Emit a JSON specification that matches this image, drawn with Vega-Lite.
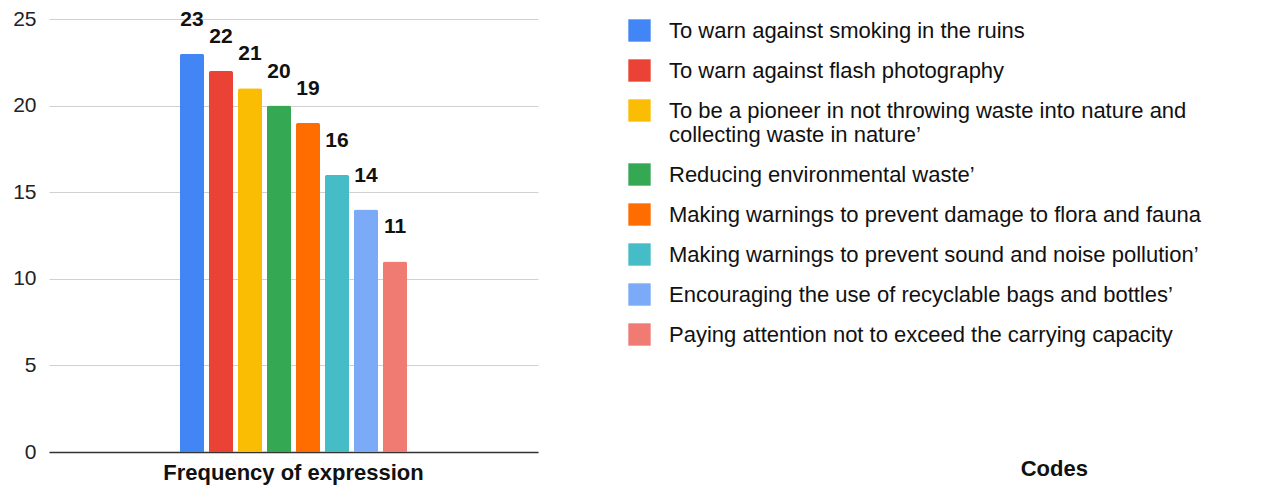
{
  "$schema": "https://vega.github.io/schema/vega-lite/v6.json",
  "autosize": "none",
  "width": 489,
  "height": 433,
  "padding": {"left": 49, "top": 19, "right": 734, "bottom": 35},
  "background": "white",
  "config": {
    "font": "Liberation Sans",
    "view": {"stroke": null}
  },
  "title": {
    "text": "Codes",
    "orient": "bottom",
    "anchor": "start",
    "dx": 1008,
    "offset": -24,
    "fontSize": 22,
    "fontWeight": "bold",
    "color": "#111111"
  },
  "data": {
    "values": [
      {"group": "Frequency of expression", "code": "To warn against smoking in the ruins", "order": 1, "value": 23},
      {"group": "Frequency of expression", "code": "To warn against flash photography", "order": 2, "value": 22},
      {"group": "Frequency of expression", "code": "To be a pioneer in not throwing waste into nature and collecting waste in nature’", "order": 3, "value": 21},
      {"group": "Frequency of expression", "code": "Reducing environmental waste’", "order": 4, "value": 20},
      {"group": "Frequency of expression", "code": "Making warnings to prevent damage to flora and fauna", "order": 5, "value": 19},
      {"group": "Frequency of expression", "code": "Making warnings to prevent sound and noise pollution’", "order": 6, "value": 16},
      {"group": "Frequency of expression", "code": "Encouraging the use of recyclable bags and bottles’", "order": 7, "value": 14},
      {"group": "Frequency of expression", "code": "Paying attention not to exceed the carrying capacity", "order": 8, "value": 11}
    ]
  },
  "encoding": {
    "x": {
      "field": "group",
      "type": "nominal",
      "scale": {"paddingInner": 0, "paddingOuter": 0.577},
      "axis": {
        "title": null,
        "labelAngle": 0,
        "labelFontSize": 22,
        "labelFontWeight": "bold",
        "labelColor": "#111111",
        "labelPadding": 10,
        "labelLimit": 500,
        "ticks": false,
        "domainColor": "#333333",
        "domainWidth": 1.5
      }
    },
    "xOffset": {
      "field": "code",
      "type": "nominal",
      "sort": {"field": "order"},
      "scale": {"paddingInner": 0.172, "paddingOuter": 0}
    },
    "y": {
      "field": "value",
      "type": "quantitative",
      "scale": {"domain": [0, 25]},
      "axis": {
        "title": null,
        "values": [0, 5, 10, 15, 20, 25],
        "labelFontSize": 21,
        "labelColor": "#222222",
        "labelPadding": 13,
        "ticks": false,
        "domain": false,
        "gridColor": "#d0d0d0",
        "gridWidth": 1.2
      }
    }
  },
  "layer": [
    {
      "mark": {"type": "bar", "cornerRadiusTopLeft": 2, "cornerRadiusTopRight": 2},
      "encoding": {
        "color": {
          "field": "code",
          "type": "nominal",
          "sort": {"field": "order"},
          "scale": {
            "range": ["#4285F4", "#EA4335", "#FBBC04", "#34A853", "#FF6D01", "#46BDC6", "#7BAAF7", "#F07B72"]
          },
          "legend": {
            "title": null,
            "orient": "none",
            "legendX": 579,
            "legendY": 0,
            "symbolType": "square",
            "symbolSize": 500,
            "symbolStrokeWidth": 0,
            "symbolOpacity": 1,
            "labelFontSize": 22,
            "labelColor": "#111111",
            "labelLimit": 700,
            "labelOffset": 18,
            "labelLineHeight": 21,
            "rowPadding": 17,
            "labelExpr": "length(datum.label) > 60 ? [substring(datum.label, 0, 53), substring(datum.label, 54)] : datum.label"
          }
        }
      }
    },
    {
      "mark": {"type": "text", "baseline": "middle", "dy": -34, "fontSize": 21, "fontWeight": "bold", "color": "#111111"},
      "encoding": {
        "text": {"field": "value", "type": "quantitative"}
      }
    }
  ]
}
